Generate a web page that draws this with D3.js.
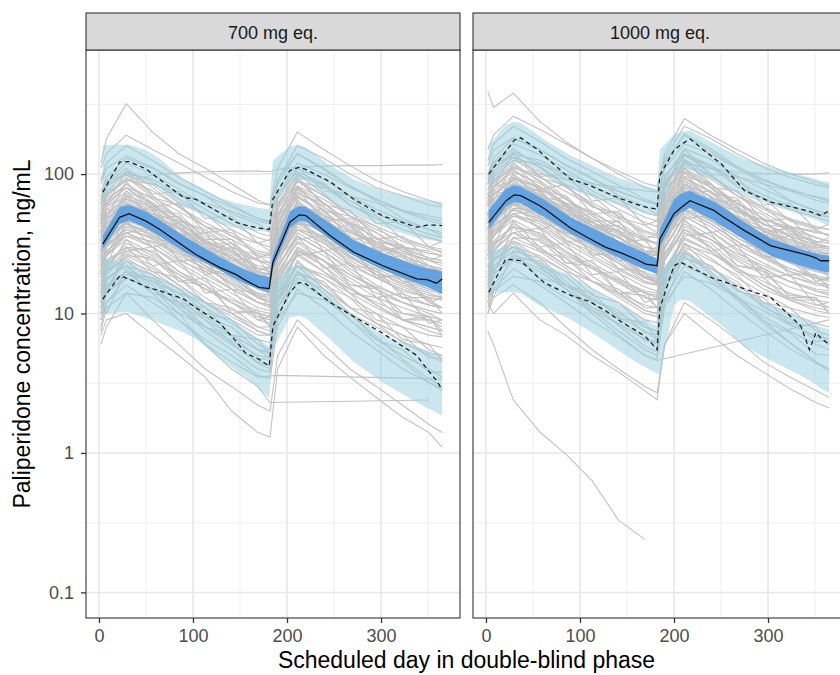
<!DOCTYPE html>
<html>
<head>
<meta charset="utf-8">
<script src="https://cdn.jsdelivr.net/npm/d3@7"></script>
<style>
  body { margin: 0; background: #fff; }
  svg { display: block; font-family: "Liberation Sans", Arial, Helvetica, sans-serif; }
</style>
</head>
<body>
<div id="chart"></div>
<script>
// ---- data ----
const panelLabels = ['700 mg eq.', '1000 mg eq.'];
const xTicks = [0, 100, 200, 300];
const xMinor = [50, 150, 250, 350];
const yTicks = [0.1, 1, 10, 100];
const yMinor = [0.316, 3.16, 31.6, 316];

// summary bins, 700 mg eq.
const days700 = [4, 22, 32, 50, 64, 90, 103, 128, 146, 156, 170, 181, 185, 203, 213, 220, 246, 271, 302, 338, 349, 359, 365];
const median700 = [31.5, 49, 52, 46, 40.4, 30.5, 26.5, 21.4, 19, 17.3, 15.4, 15.1, 23.3, 45.2, 51, 50.4, 36.1, 27.5, 22, 17.7, 17.5, 16.5, 17.7];
const p95obs700 = [74, 122, 123, 109, 92, 68, 66, 53, 45, 43, 41, 40, 66, 106, 112, 108, 88, 66, 50, 41.6, 43, 43, 42.7];
const p5obs700 = [12.7, 18.6, 17.7, 15.5, 14.6, 12.7, 11, 8.6, 6.3, 5.2, 4.7, 4.2, 8.1, 14.2, 16.7, 16.3, 12, 9.5, 7.2, 5.0, 4.0, 3.3, 2.85];
const simMedLo700 = [29, 44, 46.5, 41, 36, 28, 25, 20.5, 17.5, 16.3, 15, 14.2, 21, 41, 46, 45.5, 34, 26, 20.5, 16.5, 15.5, 14.5, 13.8];
const simMedHi700 = [36, 58, 60, 54, 47, 36, 32, 25.5, 22, 20.5, 19, 18.2, 26, 54, 59, 58, 44, 33.5, 27, 22, 21, 20.5, 19.8];
const simP95Lo700 = [61, 95, 97, 88, 80, 58, 54, 44, 41, 40, 39, 38.5, 56, 88, 92, 90, 66, 52, 42, 35, 34, 33, 32];
const simP95Hi700 = [160, 163, 162, 148, 130, 92, 84, 68, 62, 60, 57, 56, 125, 158, 161, 155, 115, 92, 76, 67, 65, 64, 63];
const simP5Lo700 = [10, 10.2, 10.2, 9.3, 8.6, 7.3, 6.6, 4.8, 3.9, 3.5, 2.9, 2.5, 5.5, 9.4, 9.6, 9.3, 6.5, 4.5, 3.2, 2.3, 2.1, 1.95, 1.85];
const simP5Hi700 = [25, 23.5, 23.4, 20, 18, 15, 13.5, 10.5, 8.5, 7.6, 6.6, 5.8, 17, 21.5, 22, 21, 13.4, 9.6, 7, 5.7, 5.4, 5.1, 5.0];

// summary bins, 1000 mg eq.
const days1000 = [3, 21, 30, 37, 56, 63, 90, 110, 127, 145, 159, 170, 182, 185, 200, 207, 217, 243, 250, 275, 303, 335, 344, 351, 356, 365];
const median1000 = [45, 64, 71, 70, 60, 56, 41, 34.5, 29.9, 27, 24.6, 22.6, 22, 34.3, 52, 57, 64.5, 54.7, 50.5, 39.3, 30.6, 27, 26, 25, 23.9, 23.9];
const p95obs1000 = [100, 145, 175, 182, 148, 133, 92, 83, 74, 66, 61, 58, 56, 98, 148, 162, 179, 129, 119, 76, 63, 56, 54, 52, 50.4, 54.7];
const p5obs1000 = [14.2, 24.6, 24.2, 23.9, 18, 16.5, 13.5, 12.2, 10.5, 8.6, 7.6, 6.8, 5.5, 11, 22, 23.3, 21.6, 17.7, 17.2, 15, 13, 8.1, 5.5, 7.3, 6.7, 6.0];
const simMedLo1000 = [40, 58, 63, 62, 52, 49, 37.5, 32, 28, 24.5, 22, 20.5, 19.2, 30, 48, 53, 57, 46, 43, 34, 26, 22, 21, 20.5, 20, 19.8];
const simMedHi1000 = [55, 78, 83, 81, 69, 65, 49, 42, 37, 32, 29, 27, 24.6, 40, 66, 72, 76, 63, 59, 45, 34.3, 29, 28, 27, 26.5, 26];
const simP95Lo1000 = [78, 115, 122, 121, 106, 100, 78, 70, 64, 59, 55, 52, 50, 53, 100, 108, 108, 90, 85, 70, 60, 51, 49, 47, 45, 43];
const simP95Hi1000 = [160, 225, 237, 232, 190, 175, 136, 118, 103, 92, 86, 82, 78, 150, 192, 200, 205, 165, 155, 128, 112, 98, 95, 92, 90, 87.5];
const simP5Lo1000 = [14, 14.2, 14.2, 14, 11.5, 11, 9.1, 7.5, 6.3, 5.2, 4.5, 4.1, 3.7, 3.7, 11.5, 12.6, 12.3, 9, 8.3, 5.8, 4.6, 3.6, 3.3, 3.1, 2.9, 2.7];
const simP5Hi1000 = [28, 30, 30.6, 30, 24, 22.5, 18.7, 15.5, 13.2, 11.4, 10, 9, 8.1, 19.8, 26.5, 27.5, 27, 19.5, 18.5, 14.2, 11.5, 9.3, 8.8, 8.3, 8, 7.7];

// individual profiles (nominal sampling days)
const obsDays = [2, 8, 29, 57, 85, 113, 141, 169, 182, 190, 211, 239, 267, 295, 323, 351, 365];
const indiv700 = [
  [75, 95, 130, 110, 85, 70, 58, 48, 46, 70, 120, 100, 80, 66, 55, 48, 46],
  [15, 20, 27, 22, 16, 12, 9, 7, 7, 16, 27, 20, 14, 11, 9, 8, 7.5],
  [28, 40, 48, 45, 38, 33, 28, 24, 23, 35, 52, 45, 38, 33, 30, 27, 26],
  [50, 65, 85, 62, 42, 28, 19, 13, 12, 38, 80, 55, 35, 24, 17, 12, 11],
  [9, 12, 18, 15, 11, 8, 6, 4.5, 4.2, 10, 17, 13, 9, 6.5, 5, 4, 3.5],
  [110, 140, 190, 150, 120, 95, 75, 62, 60, 90, 160, 130, 100, 80, 70, 60, 58],
  [22, 30, 40, 35, 26, 21, 17, 13, 12.5, 25, 42, 33, 25, 20, 16, 14, 13],
  [40, 45, 70, 50, 42, 30, 26, 18, 17, 32, 62, 50, 32, 29, 22, 20, 19],
  [18, 24, 30, 28, 20, 16, 12, 10, 9.5, 20, 32, 24, 18, 14, 12, 10, 9],
  [60, 80, 105, 88, 66, 52, 40, 32, 30, 60, 100, 82, 60, 48, 40, 35, 33],
  [35, 42, 58, 46, 36, 28, 22, 17, 16.5, 33, 56, 42, 31, 25, 21, 18.5, 18],
  [14, 18, 22, 16, 11, 7.5, 5.5, 4, 3.8, 11, 20, 14, 9, 6, 4.5, 3.2, 2.8],
  [45, 70, 90, 85, 72, 62, 54, 46, 44, 60, 88, 80, 70, 62, 55, 50, 48],
  [26, 33, 45, 37, 29, 22, 18, 14, 13.5, 28, 46, 35, 26, 21, 17, 15, 14.5],
  [42, 52, 66, 58, 44, 34, 27, 21, 20, 40, 68, 52, 38, 31, 26, 22, 21],
  [20, 28, 36, 30, 23, 18, 14, 11, 10.5, 22, 36, 28, 21, 16, 13, 11.5, 11],
  [90, 120, 160, 125, 95, 75, 60, 48, 45, 85, 140, 110, 82, 66, 54, 46, 44],
  [16, 14, 30, 20, 18, 12, 11, 8, 8, 12, 28, 22, 14, 13, 9, 9, 8],
  [30, 38, 54, 42, 32, 25, 20, 16, 15, 30, 50, 40, 29, 23, 19, 17, 16.5],
  [55, 75, 100, 70, 48, 33, 23, 16, 15, 42, 90, 62, 42, 29, 21, 16, 15],
  [12, 17, 24, 20, 15, 11, 8.5, 6.5, 6.2, 13, 23, 18, 13, 10, 8, 7, 6.8],
  [44, 58, 75, 62, 48, 38, 30, 24, 23, 45, 74, 58, 44, 35, 29, 25, 24],
  [6, 8, 14, 9, 6, 4, 3, 2.2, 2, 5, 9, 6, 4, 3, 2.2, 1.6, 1.4],
  [26, 34, 44, 50, 38, 30, 23, 18, 17, 26, 44, 48, 34, 26, 21, 18, 17],
  [70, 88, 120, 100, 78, 60, 48, 38, 36, 66, 110, 92, 70, 56, 46, 40, 38],
  [24, 28, 38, 32, 24, 20, 15, 12, 11.5, 21, 38, 30, 22, 18, 14.5, 13, 12.5],
  [36, 48, 62, 52, 40, 31, 25, 19, 18, 36, 60, 47, 35, 28, 23, 20, 19.5],
  [19, 26, 34, 27, 20, 15, 12, 9.5, 9, 19, 33, 26, 19, 15, 12, 10.5, 10],
  [48, 72, 95, 68, 60, 42, 38, 26, 25, 50, 92, 70, 50, 42, 30, 28, 26],
  [25, 32, 44, 36, 28, 22, 17.5, 13.5, 13, 27, 44, 34, 25.5, 20, 16.5, 14.5, 14],
  [120, 180, 320, 200, 140, 110, 85, 65, 60, 110, 200, 150, 115, 90, 75, 65, 60],
  [50, 70, 90, 98, 102, 104, 105, 105, 104, 108, 112, 114, 115, 115, 116, 116, 117],
  [14, 18, 22, 15, 10, 6, 4, 3, 2.3, null, null, null, null, null, null, 2.4, null],
  [11, 15, 20, 14, 9, 6, 4.5, 3.5, null, 3.6, null, null, null, null, null, null, 3.4],
  [7, 9, 10, 7, 5, 3.5, 2, 1.4, 1.3, 4, 8, 5, 3.5, 2.5, 1.8, 1.4, 1.1],
  [33, 48, 60, 55, 35, 28, 32, 20, 18, 34, 58, 40, 35, 25, 30, 22, 20],
  [32, 36, 48, 40, 31, 26, 21, 17, 16, 28, 47, 38, 28, 22, 18.5, 16, 15.5],
  [38, 50, 64, 48, 35, 27, 21, 16, 15, 34, 60, 45, 33, 26, 21, 18, 17],
  [22, 26, 36, 33, 27, 23, 19, 16, 15.5, 26, 40, 36, 29, 24, 20, 18, 17.5],
  [28, 42, 56, 44, 30, 22, 16, 12, 11, 28, 54, 38, 26, 19, 14, 11.5, 11],
  [17, 22, 32, 26, 19, 15, 12, 9, 8.5, 17, 30, 24, 17, 13, 11, 9.5, 9],
  [52, 62, 80, 68, 54, 42, 34, 27, 26, 50, 82, 66, 50, 40, 33, 29, 28],
  [12, 16, 20, 18, 14, 12, 10, 8, 7.5, 14, 22, 19, 15, 12, 10, 9, 8.5],
  [65, 85, 110, 80, 58, 42, 32, 24, 22, 55, 100, 72, 50, 38, 30, 25, 24],
  [27, 36, 52, 41, 30, 24, 19, 15, 14, 30, 52, 39, 29, 23, 19, 16, 15],
  [34, 44, 56, 50, 40, 30, 25, 20, 19, 36, 58, 48, 36, 30, 24, 21, 20],
  [20, 30, 42, 34, 25, 19, 15, 12, 11.5, 24, 40, 32, 23, 18, 15, 13, 12.5],
  [45, 55, 72, 56, 42, 32, 25, 19, 18, 40, 70, 54, 40, 31, 25, 21, 20],
  [16, 21, 28, 24, 19, 15, 12.5, 10.5, 10, 18, 29, 24, 19, 15.5, 13, 11.5, 11],
  [38, 52, 68, 54, 38, 27, 20, 15, 14, 36, 64, 48, 33, 24, 18, 15, 14],
  [24, 34, 46, 40, 32, 26, 21, 17, 16.5, 28, 45, 40, 32, 26, 22, 19.5, 19],
  [58, 70, 92, 76, 58, 45, 36, 28, 27, 52, 88, 70, 53, 42, 35, 30, 29],
  [13, 19, 26, 21, 16, 12, 9.5, 7.5, 7, 15, 26, 20, 15, 11.5, 9, 8, 7.5],
  [30, 34, 46, 44, 35, 27, 23, 19, 18, 28, 44, 42, 34, 28, 24, 21, 20.5],
  [42, 60, 80, 60, 44, 33, 26, 20, 19, 42, 78, 58, 42, 32, 26, 22, 21],
  [21, 26, 38, 30, 22, 17, 13, 10, 9.6, 21, 36, 28, 20, 15, 12, 10.5, 10],
  [29, 40, 54, 46, 36, 29, 24, 19.5, 19, 32, 54, 45, 35, 28, 23.5, 20.5, 20],
  [18, 22, 30, 25, 18, 13, 10, 7.5, 7, 17, 29, 22, 15.5, 11.5, 9, 7.5, 7],
  [36, 46, 60, 52, 41, 33, 27, 22, 21, 39, 62, 50, 39, 32, 27, 24, 23],
  [48, 64, 84, 66, 48, 36, 28, 21, 20, 46, 80, 62, 45, 35, 28, 24, 23],
  [25, 31, 40, 35, 27, 21, 16.5, 13, 12.5, 24, 40, 32, 24, 19, 15.5, 13.5, 13],
  [62, 82, 100, 92, 72, 56, 44, 35, 33, 62, 98, 84, 64, 52, 43, 37, 35],
  [10, 14, 18, 15, 11.5, 9, 7, 5.5, 5.2, 11, 18, 15, 11, 8.5, 7, 6, 5.7],
  [32, 44, 58, 48, 37, 29, 23, 18, 17, 34, 56, 45, 34, 27, 22, 19, 18],
  [40, 30, 62, 38, 45, 26, 30, 18, 20, 28, 66, 38, 44, 24, 26, 17, 20],
  [19, 32, 38, 40, 24, 24, 15, 14, 11, 26, 34, 36, 22, 21, 13, 13, 10],
  [55, 48, 88, 58, 62, 38, 40, 25, 27, 48, 96, 60, 55, 34, 36, 24, 26],
  [26, 22, 46, 30, 33, 19, 21, 13, 14, 22, 50, 28, 31, 18, 19, 12, 13],
  [14, 24, 28, 30, 17, 18, 10, 10.5, 8, 20, 26, 28, 16, 15.5, 9, 9.5, 7],
  [33, 56, 52, 58, 36, 38, 24, 25, 19, 44, 54, 56, 34, 35, 22, 22, 17],
  [70, 60, 105, 72, 75, 48, 50, 32, 34, 58, 112, 76, 70, 44, 46, 30, 33],
  [23, 38, 44, 36, 30, 20, 19, 13, 12, 30, 46, 34, 29, 19, 18, 12.5, 11],
  [48, 40, 76, 48, 50, 31, 32, 20, 22, 36, 78, 46, 48, 28, 30, 18, 20],
  [11, 18, 22, 19, 15, 10, 9, 6, 5.5, 14, 22, 18, 14, 9, 8, 5.5, 5],
  [29, 26, 50, 38, 34, 26, 20, 17, 15, 26, 52, 40, 33, 25, 19, 16, 14],
  [62, 90, 98, 84, 62, 52, 36, 32, 28, 72, 104, 86, 60, 50, 34, 30, 27],
  [17, 15, 26, 25, 17, 16, 10.5, 10, 8, 14, 28, 24, 16, 15, 10, 9.5, 7.5],
  [38, 60, 66, 52, 46, 32, 29, 20, 19, 50, 70, 50, 44, 30, 27, 19, 18],
  [22, 20, 34, 22, 24, 14, 15, 9, 9.5, 18, 36, 21, 23, 13, 14, 8.5, 9],
  [45, 36, 70, 60, 46, 40, 30, 26, 23, 36, 72, 62, 45, 38, 28, 24, 22],
  [9, 14, 19, 17, 12, 9.5, 7, 5.5, 4.8, 12, 20, 16, 11, 8.5, 6.2, 5, 4.5],
  [85, 110, 135, 112, 86, 70, 52, 44, 38, 92, 140, 108, 82, 64, 48, 40, 36],
  [31, 27, 42, 40, 28, 27, 18, 18, 14, 26, 44, 40, 27, 26, 17, 17, 13],
  [52, 68, 80, 56, 52, 34, 34, 21, 21, 58, 82, 54, 50, 32, 31, 20, 20],
  [8, 12, 16, 12, 9, 6.5, 5, 3.6, 3.4, 8, 15, 11, 7.5, 5.5, 4, 3.2, 2.9],
  [13, 10, 21, 14, 12, 8, 7, 4.8, 4.6, 9, 20, 13, 10, 6.5, 5.5, 3.8, 3.8],
  [10, 16, 19, 18, 12, 11, 7, 6.5, 5, 13, 19, 17, 11, 10, 6.5, 6, 4.6],
  [16, 20, 25, 19, 13, 9, 6.2, 4.4, 4, 12, 22, 15, 10, 6.8, 4.7, 3.4, 3],
  [7.5, 11, 14, 13, 10, 8, 6.4, 5, 4.8, 9, 14, 12.5, 10, 8, 6.3, 5.2, 5],
  [12, 15, 24, 17, 14, 9.5, 8, 5.5, 5.4, 12, 24, 16, 13, 8.5, 7, 4.8, 4.8]
];
const indiv1000 = [
  [100, 130, 180, 150, 115, 92, 76, 64, 60, 110, 165, 140, 110, 90, 78, 68, 64],
  [22, 28, 38, 30, 22, 17, 13, 10, 9.5, 20, 34, 28, 20, 15, 12.5, 11, 10.5],
  [40, 55, 68, 62, 52, 45, 39, 34, 32, 48, 70, 64, 54, 47, 42, 38, 37],
  [70, 90, 120, 88, 58, 40, 28, 19, 17, 55, 110, 80, 52, 35, 25, 18, 16],
  [12, 16, 24, 20, 15, 11, 8.5, 6.5, 6, 13, 22, 18, 13, 9.5, 7.5, 6, 5.5],
  [150, 190, 260, 210, 165, 130, 105, 86, 82, 130, 220, 180, 140, 112, 95, 84, 80],
  [32, 42, 56, 48, 36, 29, 23, 18, 17, 34, 56, 46, 35, 28, 23, 20, 19],
  [55, 60, 95, 70, 58, 42, 36, 26, 24, 44, 85, 70, 46, 40, 31, 28, 26],
  [26, 33, 42, 38, 28, 22, 17, 14, 13, 27, 44, 34, 25, 20, 17, 14.5, 13.5],
  [85, 110, 145, 120, 92, 72, 56, 45, 42, 82, 135, 112, 84, 67, 56, 49, 46],
  [48, 58, 80, 64, 50, 39, 31, 24, 23, 46, 76, 60, 44, 35, 30, 26, 25],
  [20, 25, 30, 22, 15, 10.5, 7.5, 5.5, 5, 15, 28, 19, 12.5, 8.5, 6.2, 4.5, 3.8],
  [62, 95, 125, 118, 100, 86, 75, 64, 61, 84, 120, 110, 96, 85, 76, 69, 66],
  [36, 46, 62, 52, 40, 31, 25, 19.5, 18.5, 38, 63, 49, 37, 29, 24, 21, 20],
  [58, 72, 92, 80, 61, 48, 38, 30, 28, 56, 94, 73, 54, 44, 36, 31, 30],
  [28, 38, 50, 42, 32, 25, 19.5, 15.5, 14.5, 30, 50, 39, 29, 23, 18.5, 16, 15.5],
  [125, 165, 220, 172, 130, 104, 83, 66, 62, 118, 195, 152, 114, 92, 76, 65, 62],
  [22, 19, 42, 28, 25, 17, 15, 11, 11, 17, 38, 30, 20, 18, 12.5, 12.5, 11],
  [42, 52, 74, 58, 44, 35, 28, 22, 21, 42, 70, 56, 41, 32, 27, 24, 23],
  [76, 104, 140, 98, 67, 46, 32, 22, 21, 58, 125, 86, 58, 40, 29, 22, 21],
  [17, 24, 33, 28, 21, 15, 12, 9, 8.6, 18, 32, 25, 18, 14, 11, 9.7, 9.4],
  [60, 80, 104, 86, 66, 52, 42, 33, 32, 62, 102, 80, 61, 48, 40, 35, 33],
  [7.5, 6, 2.4, 1.42, 0.98, 0.63, 0.33, 0.24, null, null, null, null, null, null, null, null, null],
  [36, 47, 62, 70, 53, 42, 32, 25, 24, 36, 61, 67, 48, 36, 29, 25, 24],
  [96, 122, 165, 138, 108, 83, 66, 53, 50, 92, 152, 128, 97, 78, 64, 55, 52],
  [33, 39, 52, 44, 33, 28, 21, 17, 16, 29, 52, 42, 31, 25, 20, 18, 17.5],
  [50, 66, 86, 72, 55, 43, 35, 26, 25, 50, 83, 65, 48, 39, 32, 28, 27],
  [26, 36, 47, 37, 28, 21, 16.5, 13, 12.5, 26, 46, 36, 26, 21, 17, 14.5, 14],
  [66, 100, 132, 94, 83, 58, 52, 36, 35, 70, 128, 97, 70, 58, 42, 39, 36],
  [35, 44, 61, 50, 39, 30, 24, 18.5, 18, 37, 61, 47, 35, 28, 23, 20, 19.5],
  [390, 300, 380, 240, 170, 130, 100, 80, 75, 140, 250, 190, 150, 120, 100, 88, 82],
  [60, 80, 110, 100, 92, 85, 80, 76, 74, 90, 120, 110, 104, 101, 100, 100, 102],
  [18, 24, 30, 22, 15, 10, 7, 5, 4.6, null, null, null, null, null, null, null, 9],
  [10, 13, 16, 12, 8, 5.5, 4, 3, 2.7, 6, 12, 9, 6.5, 4.5, 3.5, 2.8, 2.5],
  [12, 10, 14, 9, 7, 5, 3.8, 2.8, 2.4, 6, 10, 7, 5, 3.8, 2.9, 2.3, 2.1],
  [46, 66, 84, 76, 50, 40, 46, 28, 26, 48, 80, 58, 50, 36, 42, 31, 29],
  [44, 48, 64, 55, 43, 36, 30, 24, 23, 38, 62, 54, 42, 33, 28, 25, 24],
  [52, 70, 90, 68, 50, 38, 30, 23, 22, 48, 85, 64, 47, 37, 30, 26, 25],
  [30, 36, 50, 46, 38, 32, 27, 23, 22, 36, 56, 50, 41, 34, 29, 26, 25],
  [40, 58, 78, 62, 42, 31, 23, 17, 16, 40, 76, 54, 37, 27, 20, 16.5, 16],
  [24, 30, 44, 36, 27, 21, 17, 13, 12.5, 24, 42, 34, 24, 19, 15.5, 13.5, 13],
  [72, 86, 112, 95, 75, 59, 48, 38, 36, 70, 115, 92, 70, 56, 47, 41, 40],
  [16, 22, 28, 25, 20, 17, 14, 11.5, 11, 20, 31, 27, 21, 17, 14, 12.5, 12],
  [90, 118, 152, 112, 82, 60, 45, 34, 32, 78, 140, 100, 70, 53, 42, 35, 33],
  [38, 50, 70, 56, 42, 33, 26, 21, 20, 40, 68, 54, 40, 31, 26, 23, 22],
  [48, 60, 76, 68, 55, 42, 35, 28, 27, 50, 80, 66, 50, 41, 34, 30, 29],
  [28, 40, 56, 46, 34, 26, 20.5, 16.5, 16, 33, 54, 44, 33, 25, 21, 18, 17],
  [62, 76, 98, 78, 59, 45, 35, 27, 26, 56, 95, 75, 56, 44, 36, 31, 30],
  [22, 29, 38, 33, 26, 21, 17.5, 14.5, 14, 25, 40, 34, 27, 22, 18.5, 16.5, 16],
  [52, 72, 94, 74, 52, 37, 28, 21, 20, 50, 90, 68, 47, 35, 27, 22, 21],
  [34, 46, 62, 55, 44, 36, 30, 24, 23.5, 38, 62, 56, 45, 37, 31, 28, 27],
  [78, 95, 125, 104, 80, 62, 50, 39, 37, 72, 120, 96, 74, 58, 48, 42, 40],
  [18, 26, 35, 29, 22, 17, 13.5, 10.5, 10, 21, 35, 28, 21, 16, 13, 11.5, 11],
  [42, 46, 62, 60, 48, 38, 32, 27, 26, 40, 62, 58, 47, 39, 34, 30, 29],
  [58, 82, 108, 82, 60, 45, 35, 27, 26, 58, 105, 80, 58, 44, 36, 31, 30],
  [29, 36, 52, 41, 30, 23, 18, 14, 13.5, 29, 50, 39, 28, 21, 17, 15, 14.5],
  [40, 55, 74, 64, 50, 40, 33, 27, 26, 45, 74, 62, 49, 39, 33, 29, 28],
  [25, 31, 42, 35, 25, 18.5, 14, 10.5, 10, 24, 40, 30, 21, 16, 12.5, 10.5, 10],
  [50, 63, 82, 71, 56, 45, 37, 30, 29, 54, 85, 69, 54, 44, 37, 33, 32],
  [66, 88, 115, 90, 66, 50, 39, 30, 29, 64, 110, 85, 62, 48, 39, 33, 32],
  [34, 42, 55, 48, 37, 29, 23, 18, 17.5, 33, 55, 44, 33, 26, 21, 18.5, 18],
  [86, 112, 138, 126, 98, 76, 61, 49, 46, 86, 135, 116, 88, 71, 59, 51, 49],
  [14, 19, 25, 21, 16, 12.5, 10, 8, 7.5, 15, 25, 21, 16, 12, 10, 8.5, 8],
  [44, 60, 80, 66, 51, 40, 32, 25, 24, 47, 77, 62, 47, 37, 30, 26, 25],
  [54, 42, 86, 52, 60, 36, 40, 24, 27, 40, 90, 52, 58, 33, 36, 22, 25],
  [26, 44, 52, 54, 33, 33, 21, 20, 16, 36, 48, 50, 31, 30, 19, 19, 15],
  [74, 64, 120, 78, 84, 52, 54, 34, 37, 64, 128, 80, 76, 46, 48, 32, 35],
  [35, 30, 62, 40, 45, 26, 28, 18, 19, 30, 66, 38, 42, 25, 26, 17, 18],
  [19, 32, 38, 41, 23, 24, 14, 14.5, 11, 27, 36, 38, 22, 21, 13, 13, 10],
  [45, 76, 70, 78, 48, 52, 32, 34, 26, 60, 72, 76, 46, 48, 30, 30, 23],
  [95, 80, 142, 96, 100, 64, 68, 43, 46, 80, 150, 100, 95, 60, 62, 40, 44],
  [31, 52, 60, 49, 41, 27, 26, 18, 16.5, 41, 62, 46, 39, 26, 24, 17, 15],
  [65, 54, 102, 65, 68, 42, 43, 27, 30, 50, 104, 62, 65, 38, 41, 25, 27],
  [15, 24, 30, 26, 20, 13.5, 12, 8, 7.5, 19, 30, 24, 19, 12, 11, 7.5, 7],
  [39, 35, 68, 51, 46, 35, 27, 23, 20, 35, 70, 54, 44, 34, 26, 22, 19],
  [84, 122, 132, 114, 84, 70, 49, 43, 38, 97, 140, 116, 81, 68, 46, 40, 36],
  [23, 20, 35, 34, 23, 22, 14, 13.5, 11, 19, 38, 32, 22, 20, 13.5, 13, 10],
  [51, 81, 89, 70, 62, 43, 39, 27, 26, 68, 94, 68, 59, 41, 36, 26, 24],
  [30, 27, 46, 30, 32, 19, 20, 12, 13, 24, 48, 28, 31, 18, 19, 11.5, 12],
  [61, 49, 95, 81, 62, 54, 41, 35, 31, 49, 97, 84, 61, 51, 38, 32, 30],
  [12, 19, 26, 23, 16, 13, 9.5, 7.5, 6.5, 16, 27, 22, 15, 11.5, 8.4, 6.8, 6],
  [115, 148, 182, 151, 116, 94, 70, 59, 51, 124, 189, 146, 111, 86, 65, 54, 49],
  [42, 36, 57, 54, 38, 36, 24, 24, 19, 35, 59, 54, 36, 35, 23, 23, 18],
  [70, 92, 108, 76, 70, 46, 46, 28, 28, 78, 110, 73, 67, 43, 42, 27, 27],
  [11, 15, 21, 16, 12, 8.8, 6.8, 5, 4.7, 11, 20, 15, 10.5, 7.6, 5.6, 4.4, 4],
  [17, 13, 28, 18, 16, 11, 9.4, 6.4, 6.2, 12, 26, 17, 13.5, 8.8, 7.3, 5.1, 5],
  [13, 21, 25, 24, 16, 14, 9.2, 8.6, 6.6, 17, 25, 22, 14.5, 13, 8.6, 8, 6],
  [21, 26, 33, 25, 17, 12, 8.2, 5.8, 5.3, 16, 29, 20, 13, 9, 6.2, 4.5, 4],
  [10, 14.5, 18.5, 17, 13, 10.5, 8.4, 6.6, 6.3, 12, 18.5, 16.5, 13, 10.5, 8.3, 6.9, 6.6],
  [16, 20, 32, 22, 18.5, 12.5, 10.5, 7.3, 7.1, 16, 32, 21, 17, 11, 9.2, 6.3, 6.3]
];

// ---- layout ----
const width = 840, height = 675;
const panelTop = 50, panelBottom = 618, stripTop = 13;

const panels = [
  { label: panelLabels[0], left: 86, right: 460, days: days700, median: median700,
    p95: p95obs700, p5: p5obs700, medLo: simMedLo700, medHi: simMedHi700,
    p95Lo: simP95Lo700, p95Hi: simP95Hi700, p5Lo: simP5Lo700, p5Hi: simP5Hi700, indiv: indiv700 },
  { label: panelLabels[1], left: 473, right: 847, days: days1000, median: median1000,
    p95: p95obs1000, p5: p5obs1000, medLo: simMedLo1000, medHi: simMedHi1000,
    p95Lo: simP95Lo1000, p95Hi: simP95Hi1000, p5Lo: simP5Lo1000, p5Hi: simP5Hi1000, indiv: indiv1000 }
];

const svg = d3.select('#chart').append('svg')
  .attr('width', width).attr('height', height);

const yScale = d3.scaleLog().domain([0.0655, 776]).range([panelBottom, panelTop]);

panels.forEach((p, pi) => {
  const xScale = d3.scaleLinear().domain([-13.8, 384]).range([p.left, p.right]);
  const g = svg.append('g');

  const clipId = 'clip' + pi;
  svg.append('clipPath').attr('id', clipId).append('rect')
    .attr('x', p.left).attr('y', panelTop)
    .attr('width', p.right - p.left).attr('height', panelBottom - panelTop);

  // grid
  const grid = g.append('g');
  grid.selectAll('.ymin').data(yMinor).join('line')
    .attr('x1', p.left).attr('x2', p.right)
    .attr('y1', d => yScale(d)).attr('y2', d => yScale(d))
    .attr('stroke', '#ebebeb').attr('stroke-width', 0.8);
  grid.selectAll('.xmin').data(xMinor).join('line')
    .attr('y1', panelTop).attr('y2', panelBottom)
    .attr('x1', d => xScale(d)).attr('x2', d => xScale(d))
    .attr('stroke', '#ebebeb').attr('stroke-width', 0.8);
  grid.selectAll('.ymaj').data(yTicks).join('line')
    .attr('x1', p.left).attr('x2', p.right)
    .attr('y1', d => yScale(d)).attr('y2', d => yScale(d))
    .attr('stroke', '#e6e6e6').attr('stroke-width', 1.5);
  grid.selectAll('.xmaj').data(xTicks).join('line')
    .attr('y1', panelTop).attr('y2', panelBottom)
    .attr('x1', d => xScale(d)).attr('x2', d => xScale(d))
    .attr('stroke', '#e6e6e6').attr('stroke-width', 1.5);

  const plot = g.append('g').attr('clip-path', `url(#${clipId})`);

  // individual observed profiles
  const indLine = d3.line().x(d => xScale(d[0])).y(d => yScale(d[1]));
  plot.append('g').selectAll('path')
    .data(p.indiv.map(prof => obsDays.map((d, i) => [d, prof[i]]).filter(v => v[1] != null)))
    .join('path')
    .attr('d', indLine)
    .attr('fill', 'none')
    .attr('stroke', '#c2c2c2')
    .attr('stroke-width', 1.1)
    .attr('stroke-linejoin', 'round');

  // simulated prediction intervals
  const band = (lo, hi) => d3.area()
    .x((d, i) => xScale(p.days[i]))
    .y0((d, i) => yScale(lo[i]))
    .y1((d, i) => yScale(hi[i]))(p.days);

  plot.append('path').attr('d', band(p.p95Lo, p.p95Hi))
    .attr('fill', 'rgb(150,205,222)').attr('fill-opacity', 0.5);
  plot.append('path').attr('d', band(p.p5Lo, p.p5Hi))
    .attr('fill', 'rgb(150,205,222)').attr('fill-opacity', 0.5);
  plot.append('path').attr('d', band(p.medLo, p.medHi))
    .attr('fill', '#5a9ee2').attr('fill-opacity', 0.92);

  // observed percentiles
  const sumLine = vals => d3.line()
    .x((d, i) => xScale(p.days[i]))
    .y((d, i) => yScale(vals[i]))(p.days);

  [p.p95, p.p5].forEach(vals => {
    plot.append('path').attr('d', sumLine(vals))
      .attr('fill', 'none').attr('stroke', '#1a1a1a')
      .attr('stroke-width', 1.25).attr('stroke-dasharray', '4.5,3.5');
  });
  plot.append('path').attr('d', sumLine(p.median))
    .attr('fill', 'none').attr('stroke', '#111').attr('stroke-width', 1.3);

  // panel border
  g.append('rect')
    .attr('x', p.left).attr('y', panelTop)
    .attr('width', p.right - p.left).attr('height', panelBottom - panelTop)
    .attr('fill', 'none').attr('stroke', '#333').attr('stroke-width', 1.1);

  // strip
  g.append('rect')
    .attr('x', p.left).attr('y', stripTop)
    .attr('width', p.right - p.left).attr('height', panelTop - stripTop)
    .attr('fill', '#d9d9d9').attr('stroke', '#333').attr('stroke-width', 1.1);
  g.append('text')
    .attr('x', (p.left + p.right) / 2).attr('y', 38.5)
    .attr('text-anchor', 'middle')
    .attr('font-size', 18).attr('fill', '#1a1a1a')
    .text(p.label);

  // x axis
  const xAxis = g.append('g')
    .attr('transform', `translate(0,${panelBottom})`)
    .call(d3.axisBottom(xScale).tickValues(xTicks).tickSize(5).tickPadding(6));
  xAxis.select('.domain').remove();
  xAxis.selectAll('line').attr('stroke', '#333').attr('stroke-width', 1.3);
  xAxis.selectAll('text').attr('font-size', 18).attr('fill', '#4d4d4d')
    .attr('font-family', '"Liberation Sans", Arial, sans-serif');

  if (pi === 0) {
    const yAxis = g.append('g')
      .attr('transform', `translate(${p.left},0)`)
      .call(d3.axisLeft(yScale).tickValues(yTicks).tickFormat(d => String(d)).tickSize(5).tickPadding(7));
    yAxis.select('.domain').remove();
    yAxis.selectAll('line').attr('stroke', '#333').attr('stroke-width', 1.3);
    yAxis.selectAll('text').attr('font-size', 18).attr('fill', '#4d4d4d')
      .attr('font-family', '"Liberation Sans", Arial, sans-serif');
  }
});

// axis titles
svg.append('text')
  .attr('x', (86 + 847) / 2).attr('y', 668)
  .attr('text-anchor', 'middle')
  .attr('font-size', 23).attr('fill', '#000')
  .text('Scheduled day in double-blind phase');

svg.append('text')
  .attr('transform', `translate(30,${(panelTop + panelBottom) / 2}) rotate(-90)`)
  .attr('text-anchor', 'middle')
  .attr('font-size', 23).attr('fill', '#000')
  .text('Paliperidone concentration, ng/mL');
</script>
</body>
</html>
